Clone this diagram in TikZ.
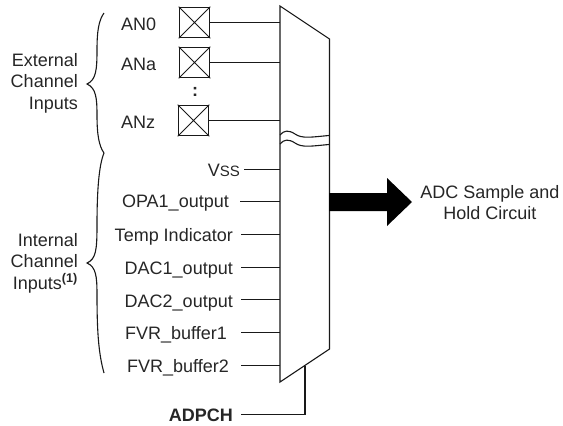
\documentclass[tikz,border=0pt]{standalone}
\usepackage{fontspec}
\setmainfont{Liberation Sans}
\newcommand{\lblfont}{\fontsize{18}{21.6}\selectfont}
\begin{document}
\begin{tikzpicture}[x=1pt,y=-1pt,
  lbl/.style={font=\lblfont,inner sep=0pt,text=black!85},
  wire/.style={line width=1.1pt,black!90},
]
\useasboundingbox (0,0) rectangle (563,426);
% mux
\draw[wire] (280,6) -- (329.5,39) -- (329.5,349) -- (280,382) -- cycle;
\coordinate (muxAN0) at (280,22);
\coordinate (muxANa) at (280,63);
\coordinate (muxANz) at (280,120);
\coordinate (muxVss) at (280,169.5);
\coordinate (muxOPA) at (280,201.5);
\coordinate (muxTemp) at (280,234.5);
\coordinate (muxDAC1) at (280,267.5);
\coordinate (muxDAC2) at (280,299.5);
\coordinate (muxF1) at (280,332.5);
\coordinate (muxF2) at (280,365.5);
\coordinate (muxSel) at (305,366);
% break
\draw[wire] (280,135) .. controls (284,130) and (289,130) .. (295,134) .. controls (302,139) and (312,137) .. (329,135.5);
\draw[wire] (280,144) .. controls (284,139) and (289,139) .. (295,143) .. controls (302,148) and (312,146) .. (329,144.5);
% pads
\newcommand{\padbox}[3]{\node[draw=black!90,line width=1.1pt,minimum size=30.5pt,inner sep=0pt] (#1) at (#2,#3) {};
  \draw[black!90,line width=0.8pt] (#1.north west) -- (#1.south east) (#1.north east) -- (#1.south west);}
\padbox{p0}{194.5}{22.5}
\padbox{pa}{194.5}{62.5}
\padbox{pz}{193.5}{120.5}
\draw[wire] (p0.east) -- (p0.east -| muxAN0);
\draw[wire] (pa.east) -- (pa.east -| muxANa);
\draw[wire] (pz.east) -- (pz.east -| muxANz);
\node[lbl,font=\lblfont\bfseries] (dots) at (195,91.5) {:};
\node[lbl,anchor=west] (an0) at (121,24) {AN0};
\node[lbl,anchor=west] (ana) at (121,64) {ANa};
\node[lbl,anchor=west] (anz) at (121,122) {ANz};
% internal
\node[lbl,anchor=base east] (vss) at (240,176) {V\fontsize{15}{18}\selectfont SS};
\node[lbl,anchor=base east] (opa) at (229,207.5) {OPA1\_output};
\node[lbl,anchor=base east] (temp) at (233,241) {Temp Indicator};
\node[lbl,anchor=base east] (d1) at (233,274.5) {DAC1\_output};
\node[lbl,anchor=base east] (d2) at (233,307.5) {DAC2\_output};
\node[lbl,anchor=base east] (f1) at (227,339.5) {FVR\_buffer1};
\node[lbl,anchor=base east] (f2) at (229,372.5) {FVR\_buffer2};
\node[lbl,anchor=base east,font=\lblfont\bfseries] (ad) at (233,421) {ADPCH};
\coordinate (sVss) at (244,169.5);
\coordinate (sOPA) at (240,201.5);
\coordinate (sTemp) at (241,234.5);
\coordinate (sD1) at (241,267.5);
\coordinate (sD2) at (241,299.5);
\coordinate (sF1) at (241,332.5);
\coordinate (sF2) at (241,365.5);
\coordinate (sAd) at (241,414.5);
\draw[wire] (sVss) -- (muxVss);
\draw[wire] (sOPA) -- (muxOPA);
\draw[wire] (sTemp) -- (muxTemp);
\draw[wire] (sD1) -- (muxDAC1);
\draw[wire] (sD2) -- (muxDAC2);
\draw[wire] (sF1) -- (muxF1);
\draw[wire] (sF2) -- (muxF2);
\draw[wire] (sAd) -- (sAd -| muxSel) -- (muxSel);
% output arrow
\fill[black] (329,193) -- (387,193) -- (387,178) -- (412,202) -- (387,226) -- (387,211) -- (329,211) -- cycle;
\node[lbl,align=center] (adc) at (490,202.5) {ADC Sample and\\Hold Circuit};
% brace labels
\node[lbl,align=right,anchor=east] (ext) at (78,83) {External\\Channel\\Inputs};
\node[lbl,align=right,anchor=east] (int) at (78,263) {Internal\\Channel\\Inputs\textsuperscript{\bfseries(1)}};
% braces
\draw[wire] (104,13) .. controls (99,20) and (97,30) .. (97,50) .. controls (97,70) and (96,80) .. (87,84) .. controls (96,88) and (97,98) .. (97,115) .. controls (97,135) and (99,146) .. (104,153);
\draw[wire] (104,153) .. controls (99,165) and (97,190) .. (97,225) .. controls (97,250) and (96,259) .. (87,263) .. controls (96,267) and (97,276) .. (97,295) .. controls (97,335) and (99,355) .. (104,373);
\end{tikzpicture}
\end{document}
